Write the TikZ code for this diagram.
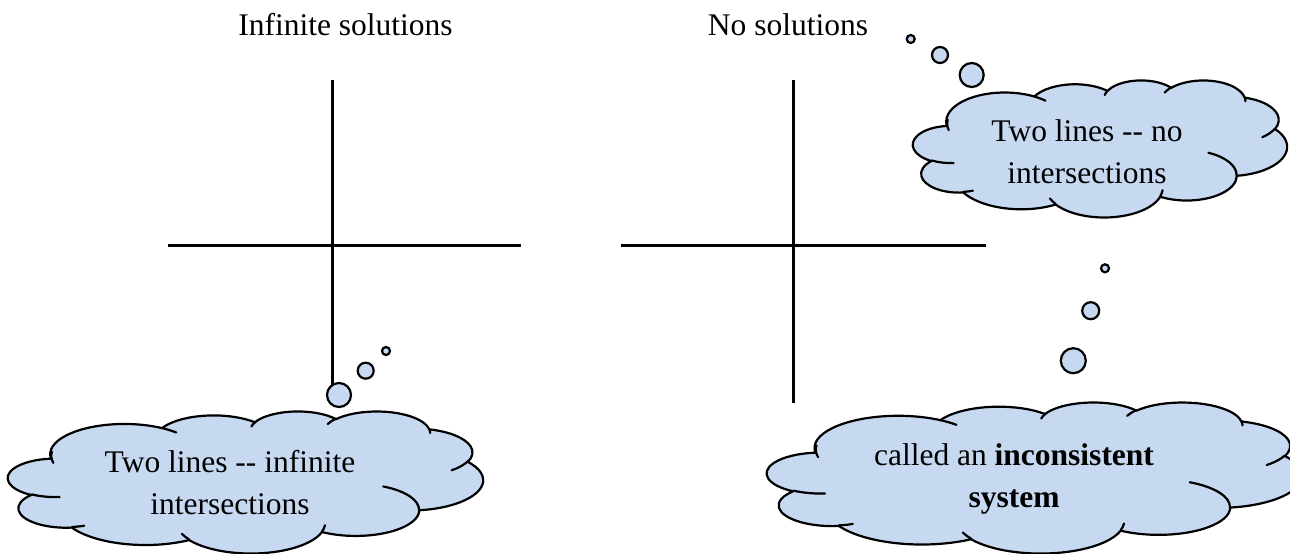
\documentclass[tikz,border=0pt]{standalone}
\usepackage{fontspec}
\setmainfont{Liberation Serif}

\definecolor{cloudfill}{HTML}{C6D9F1}

% Convert a visual start angle / sweep on an ellipse to the parametric
% angles that TikZ's arc expects; results in \cta and \ctd.
\newcommand\cloudarcangles[4]{%
  \pgfmathsetmacro\cta{atan2(#1*sin(#3), #2*cos(#3))}%
  \pgfmathsetmacro\cte{atan2(#1*sin(#3+#4), #2*cos(#3+#4))}%
  \pgfmathsetmacro\ctd{\cte-\cta}%
  \pgfmathsetmacro\ctd{\ctd-360*round((\ctd-#4)/360)}%
  \global\let\cta\cta \global\let\ctd\ctd}
\newcommand\carc[4]{\pgfextra{\cloudarcangles{#1}{#2}{#3}{#4}}
  arc[x radius=#1, y radius=#2, start angle=\cta, delta angle=\ctd]}

% Cloud outline in a 43.2 x 43.2 box (y pointing down), placed at
% top-left (#1,#2) with width #3 and height #4.
\newcommand\drawcloud[4]{%
  \begin{scope}[shift={(#1,#2)}, xscale=#3/43.2, yscale=#4/43.2]
    \path[cloudbody] (3.900,14.370)
      \carc{6.753}{9.190}{-190.487}{123.781}
      \carc{5.333}{7.267}{-144.102}{89.945}
      \carc{4.365}{5.945}{-145.808}{99.723}
      \carc{4.857}{6.595}{-130.986}{117.242}
      \carc{5.333}{7.273}{-78.709}{109.027}
      \carc{6.775}{9.220}{-46.267}{130.269}
      \carc{5.785}{7.867}{0.625}{114.033}
      \carc{6.752}{9.215}{22.452}{115.173}
      \carc{7.720}{10.543}{66.243}{75.711}
      \carc{4.360}{5.918}{-274.942}{146.736}
      \carc{4.345}{5.945}{-246.829}{152.519}
      -- cycle;
    \path[cloudcrease]
      (4.693,26.177) \carc{4.345}{5.945}{86.742}{26.430}
      (6.928,34.899) \carc{4.360}{5.918}{73.610}{11.447}
      (16.478,39.090) \carc{6.752}{9.215}{137.624}{14.081}
      (28.827,34.751) \carc{6.752}{9.215}{6.453}{15.998}
      (34.129,22.954) \carc{5.785}{7.867}{-70.292}{70.917}
      (41.798,15.354) \carc{5.333}{7.273}{30.318}{27.752}
      (38.324,5.426) \carc{4.857}{6.595}{-13.744}{14.859}
      (29.078,3.952) \carc{4.857}{6.595}{-149.181}{18.195}
      (22.141,4.720) \carc{4.365}{5.945}{-163.494}{17.686}
      (14.000,5.192) \carc{6.753}{9.190}{-66.707}{12.319}
      (4.127,15.789) \carc{6.753}{9.190}{161.691}{28.517};
  \end{scope}}

\tikzset{
  axisline/.style={line width=3pt},
  cloudbody/.style={draw=black, fill=cloudfill, line width=2.2pt, line join=round},
  cloudcrease/.style={draw=black, line width=2.2pt, line cap=round},
  bubble/.style={draw=black, fill=cloudfill, line width=2.2pt},
  heading/.style={anchor=base, inner sep=0pt, font=\fontsize{31.5}{38}\selectfont},
  cloudtext/.style={anchor=base, inner sep=0pt, align=center,
    font=\fontsize{31.5}{42}\selectfont},
}

\begin{document}
\begin{tikzpicture}[x=1pt, y=-1pt]
  \useasboundingbox (0,0) rectangle (1290,554);

  % titles
  \node[heading] (tinf) at (345.5,35) {Infinite solutions};
  \node[heading] (tnone) at (788,35) {No solutions};

  % left axes
  \draw[axisline] (332,80) -- (332,386);
  \draw[axisline] (168,245) -- (521,245);

  % right axes
  \draw[axisline] (793,80) -- (793,403);
  \draw[axisline] (621,245) -- (986,245);

  % left thought bubble (anchor at the baseline of the last line)
  \path[bubble] (386,351) circle[radius=4];
  \path[bubble] (365.7,370.7) circle[radius=8];
  \path[bubble] (339,395) circle[radius=12];
  \drawcloud{8}{411}{475}{142}
  \node[cloudtext] (cinf) at (230,514)
    {Two lines -{}- infinite\\intersections};

  % upper right thought bubble
  \path[bubble] (910.7,39) circle[radius=4];
  \path[bubble] (940,55) circle[radius=8];
  \path[bubble] (971.7,75) circle[radius=12];
  \drawcloud{913}{80}{374}{137}
  \node[cloudtext] (cnone) at (1087,183.3)
    {Two lines -{}- no\\intersections};

  % lower right thought bubble
  \path[bubble] (1105,268.3) circle[radius=4];
  \path[bubble] (1090.7,310.7) circle[radius=8.5];
  \path[bubble] (1073.3,360.7) circle[radius=12.5];
  \drawcloud{767}{402}{535}{151}
  \node[cloudtext] (cincons) at (1014,507)
    {called an \textbf{inconsistent}\\\textbf{system}};
\end{tikzpicture}
\end{document}
